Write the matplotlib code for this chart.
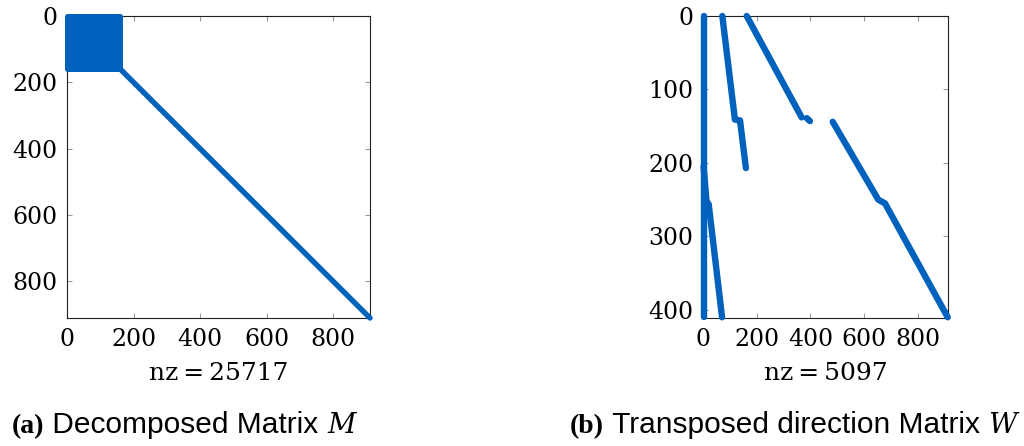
import matplotlib
matplotlib.use("Agg")
import matplotlib.pyplot as plt
from matplotlib.patches import Rectangle

BLUE = "#0062BC"
TICK_GREY = "#9a9a9a"

# ---- Decomposed matrix M (square) ----
m_size = 911          # rows = columns
m_block = 160         # dense leading block
m_nz = 25717
m_xticks = [0, 200, 400, 600, 800]
m_yticks = [0, 200, 400, 600, 800]

# ---- Transposed direction matrix W ----
w_rows = 411
w_cols = 912
w_nz = 5097
w_xticks = [0, 200, 400, 600, 800]
w_yticks = [0, 100, 200, 300, 400]

# nonzero bands of W as (row, column) breakpoints
w_band_rows = [
    [0, 410],
    [0, 141, 142, 207],
    [0, 138],
    [139, 143],
    [144, 250, 255, 410],
    [205, 252, 256, 410],
]
w_band_cols = [
    [1, 1],
    [71, 118, 137, 159],
    [162, 367],
    [386, 398],
    [483, 653, 678, 912],
    [1, 12, 20, 70],
]

SERIF = "DejaVu Serif"
plt.rcParams["font.family"] = SERIF

fig = plt.figure(figsize=(10.24, 4.46), dpi=100)
ax_m = fig.add_axes([67 / 1024, 128 / 446, 303 / 1024, 302 / 446])
ax_w = fig.add_axes([703.3 / 1024, 128 / 446, 244.4 / 1024, 302 / 446])


def style_axes(ax, xticks, yticks, xmax, ymax, nz):
    ax.set_xlim(0, xmax)
    ax.set_ylim(ymax, 0)
    ax.set_xticks(xticks)
    ax.set_yticks(yticks)
    ax.tick_params(direction="in", length=3.8, width=0.8, color=TICK_GREY,
                   top=True, right=True, labelsize=17, pad=7,
                   labelcolor="black")
    for s in ax.spines.values():
        s.set_linewidth(0.8)
        s.set_color("#222222")
    ax.set_xlabel(f"nz\u2009=\u2009{nz}", fontsize=18, labelpad=8)


# M: dense block plus the remaining diagonal
ax_m.add_patch(Rectangle((0, 0), m_block, m_block, facecolor=BLUE,
                         edgecolor=BLUE, linewidth=3.6, joinstyle="round",
                         zorder=3, clip_on=False))
ax_m.plot([m_block, m_size], [m_block, m_size], color=BLUE, lw=3.9,
          solid_capstyle="round", zorder=3, clip_on=False)
style_axes(ax_m, m_xticks, m_yticks, m_size, m_size, m_nz)

# W: banded nonzero pattern
for rows, cols in zip(w_band_rows, w_band_cols):
    ax_w.plot(cols, rows, color=BLUE, lw=4.6, solid_capstyle="round",
              solid_joinstyle="round", zorder=3, clip_on=False)
style_axes(ax_w, w_xticks, w_yticks, w_cols, w_rows, w_nz)


def caption(x, y, parts):
    """Write a caption made of differently styled pieces side by side."""
    fig.canvas.draw()
    renderer = fig.canvas.get_renderer()
    for txt, kw in parts:
        t = fig.text(x, y, txt, ha="left", va="baseline", **kw)
        bb = t.get_window_extent(renderer=renderer)
        x += bb.width / fig.bbox.width


lab_kw = dict(family="Liberation Serif", weight="bold", fontsize=20)
cap_kw = dict(family="Liberation Sans", fontsize=21.5)
sym_kw = dict(family=SERIF, style="italic", fontsize=20)

caption(12 / 1024, 13 / 446, [("(a)", lab_kw),
                               ("\u00a0Decomposed Matrix\u00a0", cap_kw),
                               ("M", sym_kw)])
caption(570 / 1024, 13 / 446, [("(b)", lab_kw),
                                ("\u00a0Transposed direction Matrix\u00a0", cap_kw),
                                ("W", sym_kw)])

fig.savefig("out.png", dpi=100)
